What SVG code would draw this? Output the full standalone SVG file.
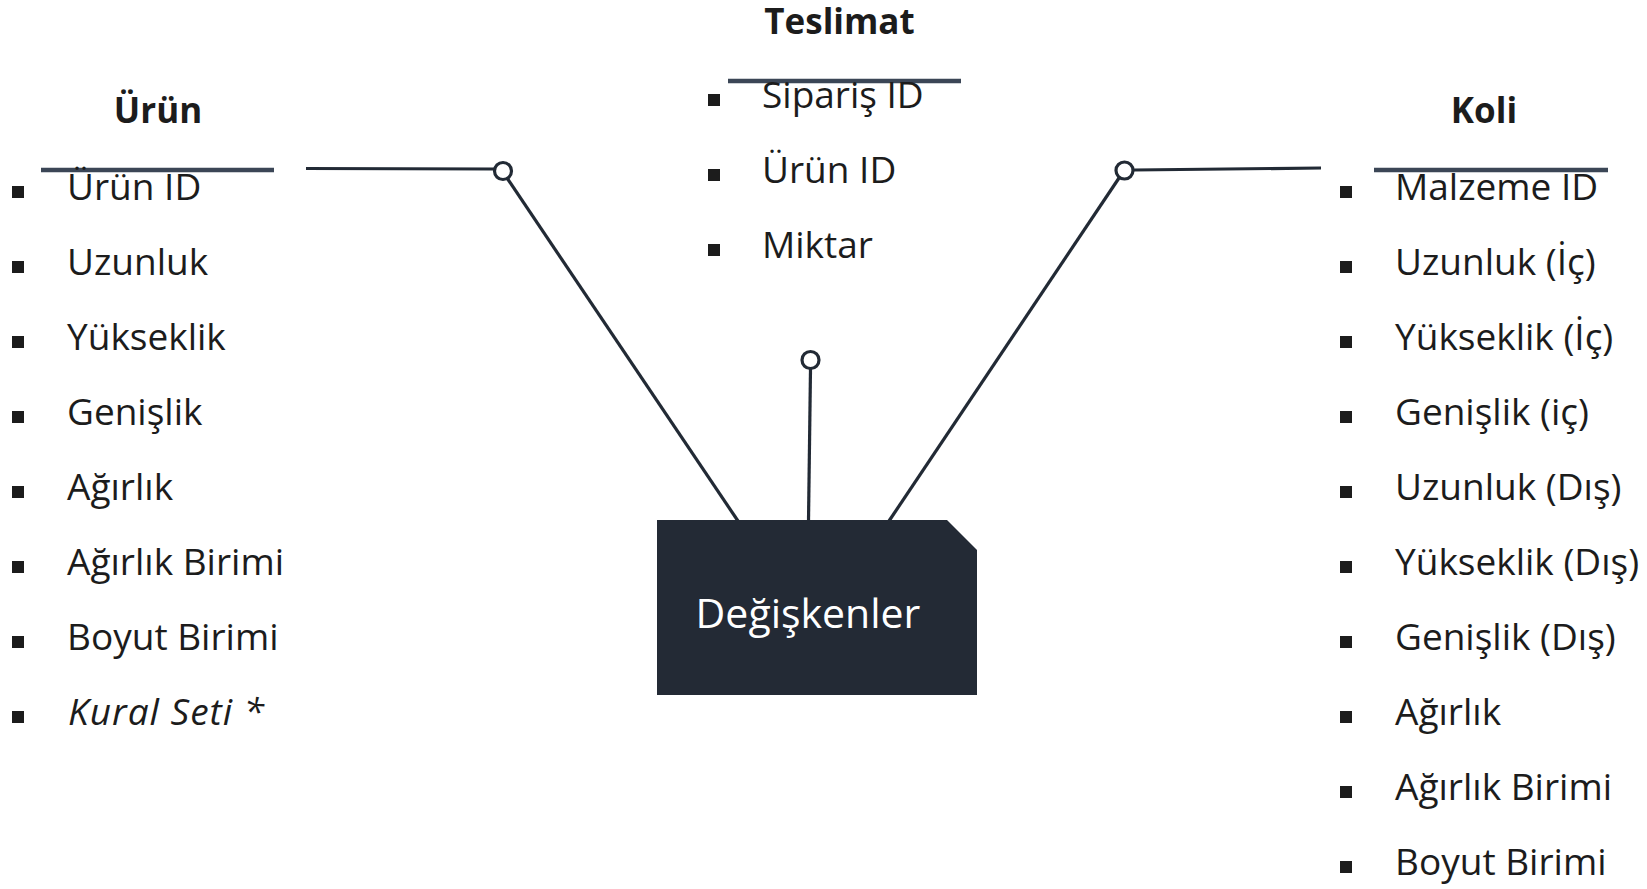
<svg xmlns="http://www.w3.org/2000/svg" width="1647" height="889" viewBox="0 0 1647 889">
<style>
.t{font-family:"Open Sans","Noto Sans","DejaVu Sans",sans-serif;font-size:37px;fill:#1c1c1c}
.h{font-family:"Open Sans","Noto Sans","DejaVu Sans",sans-serif;font-size:35px;font-weight:bold;fill:#1c1c1c;text-anchor:middle}
.b{fill:#1c1c1c}
.ul{stroke:#3b4656;stroke-width:4.5;fill:none}
.c{stroke:#222a35;stroke-width:3.2;fill:none}
.o{stroke:#222a35;stroke-width:3.2;fill:#fff}
</style>
<defs>
<rect id="bl" width="12" height="12"/>
</defs>
<g id="connectors">
<line class="c" x1="306" y1="168.5" x2="494" y2="169"/>
<line class="c" x1="507" y1="178" x2="738" y2="521"/>
<circle class="o" cx="503" cy="171" r="8.5"/>
<line class="c" x1="810.5" y1="369" x2="808.5" y2="521"/>
<circle class="o" cx="810.5" cy="360" r="8.5"/>
<line class="c" x1="1321" y1="168" x2="1134" y2="170"/>
<line class="c" x1="1119" y1="178" x2="889" y2="521"/>
<circle class="o" cx="1124.5" cy="170.5" r="8.5"/>
</g>
<g id="urun">
<text class="h" x="158" y="123">Ürün</text>
<line class="ul" x1="41" y1="170" x2="274" y2="170"/>
<g class="b">
<use href="#bl" x="12" y="186"/><use href="#bl" x="12" y="261"/><use href="#bl" x="12" y="336"/><use href="#bl" x="12" y="411"/><use href="#bl" x="12" y="486"/><use href="#bl" x="12" y="561"/><use href="#bl" x="12" y="636"/><use href="#bl" x="12" y="711"/>
</g>
<text class="t" x="67" y="200">Ürün ID</text>
<text class="t" x="67" y="275">Uzunluk</text>
<text class="t" x="67" y="350">Yükseklik</text>
<text class="t" x="67" y="425">Genişlik</text>
<text class="t" x="67" y="500">Ağırlık</text>
<text class="t" x="67" y="575">Ağırlık Birimi</text>
<text class="t" x="67" y="650">Boyut Birimi</text>
<text class="t" x="68" y="725" font-style="italic" letter-spacing="1">Kural Seti *</text>
</g>
<g id="teslimat">
<text class="h" x="839.5" y="34">Teslimat</text>
<line class="ul" x1="728" y1="81" x2="961" y2="81"/>
<g class="b">
<use href="#bl" x="708" y="94"/><use href="#bl" x="708" y="169"/><use href="#bl" x="708" y="244"/>
</g>
<text class="t" x="762" y="108">Sipariş ID</text>
<text class="t" x="762" y="183">Ürün ID</text>
<text class="t" x="762" y="258">Miktar</text>
</g>
<g id="koli">
<text class="h" x="1484" y="123">Koli</text>
<line class="ul" x1="1374" y1="170" x2="1608" y2="170"/>
<g class="b">
<use href="#bl" x="1340" y="186"/><use href="#bl" x="1340" y="261"/><use href="#bl" x="1340" y="336"/><use href="#bl" x="1340" y="411"/><use href="#bl" x="1340" y="486"/><use href="#bl" x="1340" y="561"/><use href="#bl" x="1340" y="636"/><use href="#bl" x="1340" y="711"/><use href="#bl" x="1340" y="786"/><use href="#bl" x="1340" y="861"/>
</g>
<text class="t" x="1395" y="200">Malzeme ID</text>
<text class="t" x="1395" y="275">Uzunluk (İç)</text>
<text class="t" x="1395" y="350">Yükseklik (İç)</text>
<text class="t" x="1395" y="425">Genişlik (iç)</text>
<text class="t" x="1395" y="500">Uzunluk (Dış)</text>
<text class="t" x="1395" y="575">Yükseklik (Dış)</text>
<text class="t" x="1395" y="650">Genişlik (Dış)</text>
<text class="t" x="1395" y="725">Ağırlık</text>
<text class="t" x="1395" y="800">Ağırlık Birimi</text>
<text class="t" x="1395" y="875">Boyut Birimi</text>
</g>
<g id="degiskenler">
<path d="M657,520 H947 L977,550 V695 H657 Z" fill="#232a35"/>
<text x="808" y="628" font-family="'Open Sans','Noto Sans',sans-serif" font-size="41" fill="#fff" text-anchor="middle">Değişkenler</text>
</g>
</svg>
